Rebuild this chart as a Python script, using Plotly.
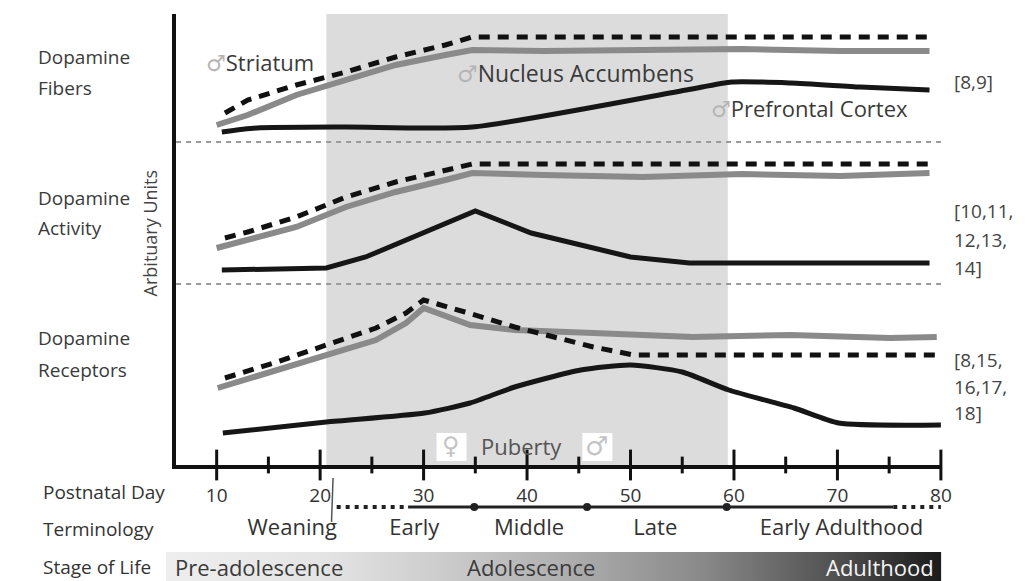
import plotly.graph_objects as go

W, H = 1035, 581
FONT = "Open Sans"

# ---------------- data (postnatal day, arbitrary units) ----------------
# Dopamine fibers
fib_dash_x = [10.8, 13.0, 17.7, 22.5, 27.3, 32.1, 34.7, 78.9]
fib_dash_y = [352, 365, 380, 393, 408, 420, 428, 428]
fib_gray_x = [10.0, 13.0, 17.7, 22.5, 27.3, 32.1, 34.7, 41.6, 51.2, 60.8, 70.3, 78.9]
fib_gray_y = [340, 350, 370, 385, 400, 410, 415, 414, 415, 416, 414, 414]
fib_black_x = [10.5, 13.9, 22.5, 34.7, 55.4, 59.8, 65.5, 72.2, 78.9]
fib_black_y = [333, 337, 338, 338, 375, 383, 382, 378, 375]

# Dopamine activity
act_dash_x = [10.8, 13.0, 17.7, 22.5, 27.3, 32.1, 34.7, 78.9]
act_dash_y = [227, 233, 248, 268, 283, 295, 301, 301]
act_gray_x = [10.0, 13.0, 17.7, 22.5, 27.3, 32.1, 34.7, 41.6, 51.2, 60.8, 70.3, 78.9]
act_gray_y = [217, 225, 238, 258, 273, 285, 292, 290, 288, 291, 289, 292]
act_black_x = [10.5, 20.6, 24.4, 35.0, 40.4, 50.0, 55.7, 78.9]
act_black_y = [195, 197, 208, 254, 232, 208, 202, 202]

# Dopamine receptors
rec_dash_x = [10.8, 15.8, 20.6, 25.4, 28.3, 30.0, 34.0, 38.8, 42.6, 46.4, 50.3, 79.6]
rec_dash_y = [87, 103, 120, 137, 152, 165, 153, 138, 128, 118, 110, 110]
rec_gray_x = [10.1, 15.8, 20.6, 25.4, 28.3, 30.0, 34.5, 38.8, 46.4, 56.0, 65.5, 75.1, 79.6]
rec_gray_y = [77, 95, 110, 125, 142, 157, 140, 135, 132, 128, 130, 127, 128]
rec_black_x = [10.6, 20.6, 30.1, 34.5, 38.8, 45.2, 50.0, 55.0, 59.5, 65.8, 70.1, 80.0]
rec_black_y = [32, 43, 52, 62, 78, 95, 100, 93, 75, 57, 42, 40]

# axis / annotation data
major_ticks = [10, 20, 30, 40, 50, 60, 70, 80]
minor_ticks = [15, 25, 35, 45, 55, 65, 75]
adolescence_span = [20.6, 59.4]
panel_separators = [323, 181]
puberty_days = [32.7, 46.8]
term_dotted_start = [21.6, 28.5]
term_solid = [28.5, 75.4]
term_dotted_end = [75.4, 80.0]
term_nodes = [34.9, 45.8, 59.3]
term_labels = ["Weaning", "Early", "Middle", "Late", "Early Adulthood"]
term_label_days = [17.3, 29.1, 40.2, 52.4, 70.4]
stage_span = [5.1, 80.0]

X_RANGE = [6.08, 80.0]
DASH_COL, GRAY_COL, BLACK_COL = "#111111", "#8a8a8a", "#161616"

fig = go.Figure()


def curve(x, y, kind, smooth=False):
    if kind == "dash":
        line = dict(color=DASH_COL, width=5, dash="11px,8px")
    elif kind == "gray":
        line = dict(color=GRAY_COL, width=6)
    else:
        line = dict(color=BLACK_COL, width=5)
    if smooth:
        line.update(shape="spline", smoothing=0.6)
    fig.add_trace(go.Scatter(x=x, y=y, mode="lines", line=line, hoverinfo="skip",
                             showlegend=False, xaxis="x", yaxis="y"))


for xs, ys, k, s in [
    (fib_gray_x, fib_gray_y, "gray", False), (fib_dash_x, fib_dash_y, "dash", False),
    (fib_black_x, fib_black_y, "black", True),
    (act_gray_x, act_gray_y, "gray", False), (act_dash_x, act_dash_y, "dash", False),
    (act_black_x, act_black_y, "black", False),
    (rec_gray_x, rec_gray_y, "gray", False), (rec_dash_x, rec_dash_y, "dash", False),
    (rec_black_x, rec_black_y, "black", True),
]:
    curve(xs, ys, k, s)

# crossing ticks on the x axis
fig.add_trace(go.Scatter(x=major_ticks, y=[0] * len(major_ticks), mode="markers",
                         marker=dict(symbol="line-ns", size=22, line=dict(width=3, color="#111")),
                         cliponaxis=False, hoverinfo="skip", showlegend=False, xaxis="x", yaxis="y"))
fig.add_trace(go.Scatter(x=minor_ticks, y=[0] * len(minor_ticks), mode="markers",
                         marker=dict(symbol="line-ns", size=12, line=dict(width=3, color="#111")),
                         cliponaxis=False, hoverinfo="skip", showlegend=False, xaxis="x", yaxis="y"))

# terminology line (lower strip, y2 units = pixels below the axis)
TERM_Y = -42
fig.add_trace(go.Scatter(x=term_dotted_start, y=[TERM_Y] * 2, mode="lines",
                         line=dict(color="#222", width=4, dash="4px,5px"),
                         hoverinfo="skip", showlegend=False, xaxis="x", yaxis="y2"))
fig.add_trace(go.Scatter(x=term_solid, y=[TERM_Y] * 2, mode="lines",
                         line=dict(color="#222", width=3),
                         hoverinfo="skip", showlegend=False, xaxis="x", yaxis="y2"))
fig.add_trace(go.Scatter(x=term_dotted_end, y=[TERM_Y] * 2, mode="lines",
                         line=dict(color="#222", width=4, dash="4px,5px"),
                         hoverinfo="skip", showlegend=False, xaxis="x", yaxis="y2"))
fig.add_trace(go.Scatter(x=term_nodes, y=[TERM_Y] * len(term_nodes), mode="markers",
                         marker=dict(color="#222", size=8),
                         hoverinfo="skip", showlegend=False, xaxis="x", yaxis="y2"))
fig.add_trace(go.Scatter(x=[term_dotted_start[0] - 0.35, term_dotted_start[0] - 0.5],
                         y=[-13, -57], mode="lines", line=dict(color="#555", width=1.5),
                         hoverinfo="skip", showlegend=False, xaxis="x", yaxis="y2"))
fig.add_trace(go.Scatter(x=term_label_days, y=[-64] * len(term_labels), mode="text",
                         text=term_labels, textposition="middle center",
                         textfont=dict(family=FONT, size=22, color="#333"),
                         hoverinfo="skip", showlegend=False, xaxis="x", yaxis="y2", cliponaxis=False))

# stage of life gradient bar
fig.add_trace(go.Scatter(x=[stage_span[0], stage_span[1], stage_span[1], stage_span[0], stage_span[0]],
                         y=[0, 0, 1, 1, 0], mode="lines", line=dict(width=0),
                         fill="toself",
                         fillgradient=dict(type="horizontal", start=stage_span[0], stop=stage_span[1],
                                           colorscale=[[0.0, "#eeeeee"], [0.2, "#e4e4e4"],
                                                       [0.35, "#cccccc"], [0.5, "#b0b0b0"],
                                                       [0.68, "#8a8a8a"], [0.84, "#555555"],
                                                       [1.0, "#161616"]]),
                         hoverinfo="skip", showlegend=False, xaxis="x3", yaxis="y3"))

shapes = [
    dict(type="rect", xref="x", yref="y", x0=adolescence_span[0], x1=adolescence_span[1],
         y0=0, y1=452, fillcolor="#dcdcdc", line=dict(width=0), layer="below"),
]
for sy in panel_separators:
    shapes.append(dict(type="line", xref="x", yref="y", x0=X_RANGE[0], x1=X_RANGE[1], y0=sy, y1=sy,
                       line=dict(color="#9a9a9a", width=2, dash="5px,5px"), layer="below"))
for pd in puberty_days:
    shapes.append(dict(type="rect", xref="x", yref="y", x0=pd - 1.45, x1=pd + 1.45, y0=4, y1=32,
                       fillcolor="white", line=dict(width=0), layer="below"))


def px(x):
    return x / W


def py(y):
    return 1 - y / H


annotations = []


def ann(text, x, y, size, color="#3a3a3a", xanchor="left", **kw):
    annotations.append(dict(text=text, x=px(x), y=py(y), xref="paper", yref="paper",
                            xanchor=xanchor, yanchor="middle", showarrow=False,
                            font=dict(family=FONT, size=size, color=color), **kw))


for txt, y in [("Dopamine", 57), ("Fibers", 88), ("Dopamine", 198), ("Activity", 228),
               ("Dopamine", 338), ("Receptors", 370)]:
    ann(txt, 36, y, 19)

male = '<span style="color:#b5b5b5;font-family:DejaVu Sans">♂</span>'
ann(male + "Striatum", 206, 62, 22)
ann(male + "Nucleus Accumbens", 460, 73, 23)
ann(male + "Prefrontal Cortex", 717, 108, 22)

for txt, y in [("[8,9]", 82), ("[10,11,", 211), ("12,13,", 240), ("14]", 268),
               ("[8,15,", 360), ("16,17,", 387), ("18]", 413)]:
    ann(txt, 962, y, 19, color="#444")

ann("Arbituary Units", 152, 233, 18, color="#444", xanchor="center", textangle=-90)

ann('<span style="color:#c4c4c4;font-family:DejaVu Sans">♀</span>', 456, 446, 24, xanchor="center")
ann("Puberty", 527, 446, 22, color="#555", xanchor="center")
ann('<span style="color:#c4c4c4;font-family:DejaVu Sans">♂</span>', 603, 446, 26, xanchor="center")

ann("Postnatal Day", 41, 492, 19, color="#333")
ann("Terminology", 41, 529, 19, color="#333")
ann("Stage of Life", 41, 567, 19, color="#333")

ann("Pre-adolescence", 175, 567, 22, color="#3a3a3a")
ann("Adolescence", 537, 567, 22, color="#3a3a3a", xanchor="center")
ann("Adulthood", 946, 567, 22, color="#f4f4f4", xanchor="right")

fig.update_layout(
    width=W, height=H, margin=dict(l=0, r=0, t=0, b=0),
    paper_bgcolor="white", plot_bgcolor="rgba(0,0,0,0)",
    showlegend=False, shapes=shapes, annotations=annotations,
    xaxis=dict(domain=[178 / W, 951 / W], range=X_RANGE, anchor="y",
               showline=True, linewidth=4, linecolor="#111", mirror=False,
               showgrid=False, zeroline=False,
               tickvals=major_ticks, ticktext=[str(t) for t in major_ticks],
               ticks="outside", ticklen=10, tickcolor="rgba(0,0,0,0)",
               tickfont=dict(family=FONT, size=19, color="#333")),
    yaxis=dict(domain=[(H - 465) / H, (H - 14) / H], range=[0, 451], anchor="x",
               showline=True, linewidth=4, linecolor="#111",
               showgrid=False, zeroline=False, showticklabels=False, ticks=""),
    yaxis2=dict(domain=[0, (H - 465) / H], range=[-116, 0], anchor="x",
                visible=False),
    xaxis3=dict(domain=[0, 1], range=[-10.94, 88.01], anchor="y3", visible=False),
    yaxis3=dict(domain=[0, 29 / H], range=[0, 1], anchor="x3", visible=False),
)

fig.write_html("out.html")
